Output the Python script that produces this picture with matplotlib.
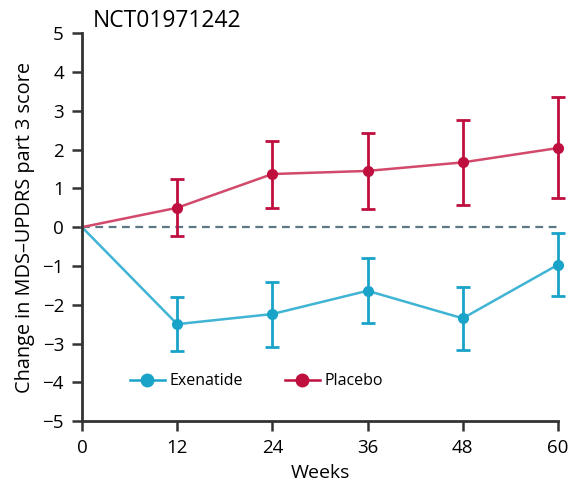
import matplotlib
matplotlib.use("Agg")
import matplotlib.pyplot as plt
import numpy as np

plt.rcParams['font.family'] = ['Open Sans', 'DejaVu Sans']

weeks = [0, 12, 24, 36, 48, 60]

exenatide = [0, -2.50, -2.24, -1.64, -2.35, -0.97]
exenatide_hi = [0, -1.80, -1.42, -0.80, -1.54, -0.16]
exenatide_lo = [0, -3.20, -3.09, -2.48, -3.17, -1.78]

placebo = [0, 0.50, 1.37, 1.45, 1.67, 2.04]
placebo_hi = [0, 1.23, 2.22, 2.43, 2.77, 3.35]
placebo_lo = [0, -0.22, 0.49, 0.46, 0.58, 0.74]

x_ticks = [0, 12, 24, 36, 48, 60]
y_ticks = [5, 4, 3, 2, 1, 0, -1, -2, -3, -4, -5]

c_exe = '#1aa3c8'
c_exe_line = '#40b4d4'
c_pla = '#be0f3e'
c_pla_line = '#d2496c'

fig = plt.figure(figsize=(5.71, 4.96), dpi=100)
ax = fig.add_axes([0.1436, 0.151, 0.8334, 0.782])

ax.axhline(0, color='#5d7884', lw=1.6, ls=(0, (3.5, 2.5)), zorder=1)


def draw(y, hi, lo, col, line_col, name):
    y = np.array(y)
    err = [y[1:] - np.array(lo[1:]), np.array(hi[1:]) - y[1:]]
    ax.plot(weeks, y, color=line_col, lw=1.8, zorder=2, clip_on=False)
    ax.errorbar(weeks[1:], y[1:], yerr=err, fmt='none', ecolor=col,
                elinewidth=2, capsize=5, capthick=2, zorder=3, clip_on=False)
    ax.plot(weeks[1:], y[1:], 'o', color=col, ms=7, zorder=4, clip_on=False)
    ax.plot([], [], '-o', color=col, lw=1.8, ms=9, label=name)


draw(exenatide, exenatide_hi, exenatide_lo, c_exe, c_exe_line, 'Exenatide')
draw(placebo, placebo_hi, placebo_lo, c_pla, c_pla_line, 'Placebo')

ax.set_xlim(0, 60)
ax.set_ylim(-5, 5)
ax.set_xticks(x_ticks)
ax.set_yticks(y_ticks)
ax.set_yticklabels([str(v).replace('-', '\u2212') for v in y_ticks])

for s in ['top', 'right']:
    ax.spines[s].set_visible(False)
for s in ['left', 'bottom']:
    ax.spines[s].set_color('#333333')
    ax.spines[s].set_linewidth(2)
ax.tick_params(axis='both', length=7, width=1.8, color='#333333',
               labelsize=13.5, pad=6)

ax.set_xlabel('Weeks', fontsize=14, labelpad=5)
ax.set_ylabel('Change in MDS\u2013UPDRS part 3 score', fontsize=14.3, labelpad=5)
fig.text(0.163, 0.957, 'NCT01971242', fontsize=16.5, ha='left', va='center')

ax.legend(loc='lower left', bbox_to_anchor=(0.07, 0.045), ncol=2, frameon=False,
          fontsize=11.5, handlelength=2.2, handletextpad=0.3, columnspacing=2.6)

fig.savefig('out.png', dpi=100)
